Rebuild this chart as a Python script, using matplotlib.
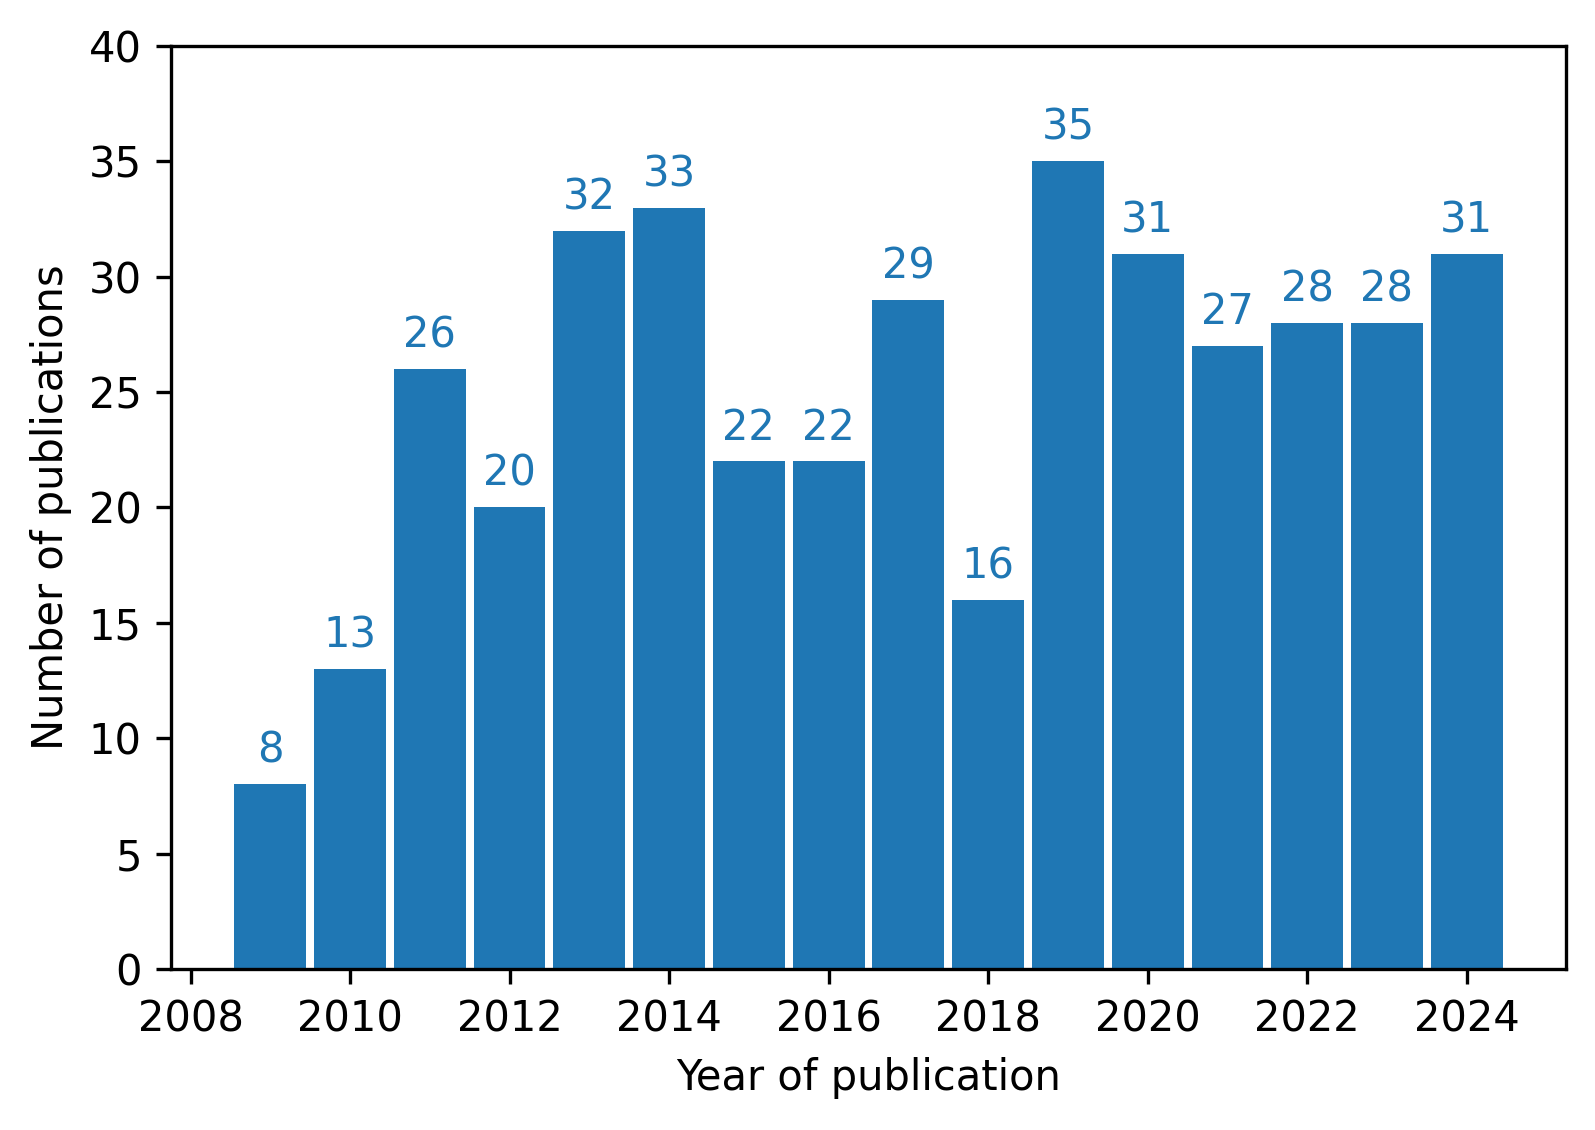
import numpy as np
import matplotlib
matplotlib.use("Agg")
import matplotlib.pyplot as plt

years = [2009, 2010, 2011, 2012, 2013, 2014, 2015, 2016,
         2017, 2018, 2019, 2020, 2021, 2022, 2023, 2024]
counts = [8, 13, 26, 20, 32, 33, 22, 22, 29, 16, 35, 31, 27, 28, 28, 31]

fig, ax = plt.subplots(figsize=(1595 / 300, 1130 / 300), dpi=300)
fig.subplots_adjust(left=171 / 1595, right=1566 / 1595, top=1 - 46 / 1130, bottom=1 - 969 / 1130)

bars = ax.bar(years, counts, width=0.9, color="C0")
ax.bar_label(bars, padding=3, color="C0")

ax.set_ylim(0, 40)
ax.set_xticks(range(2008, 2025, 2))
ax.set_xlabel("Year of publication")
ax.set_ylabel("Number of publications")

fig.savefig("out.png", dpi=300)
